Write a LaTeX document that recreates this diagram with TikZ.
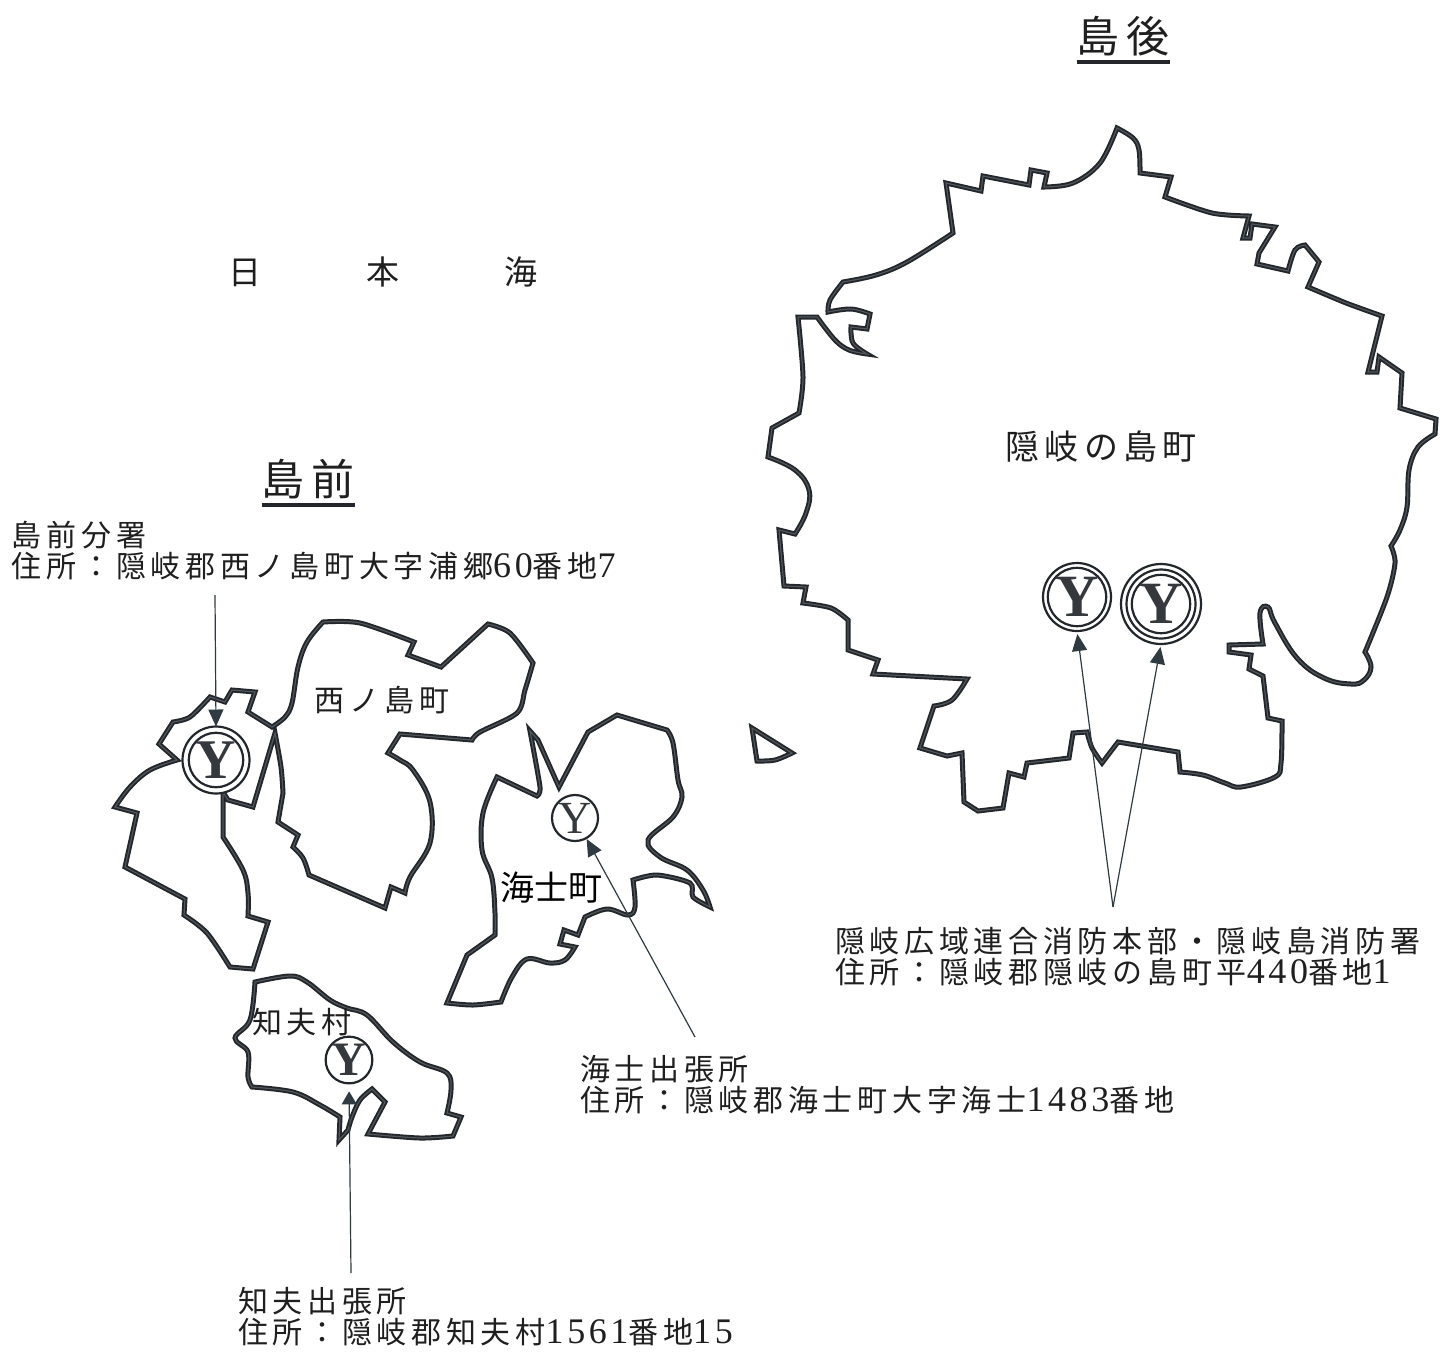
\documentclass[tikz,border=0pt]{standalone}
\usepackage{fontspec}
\usetikzlibrary{arrows.meta}
\newfontfamily\jp{Noto Sans CJK JP}
\newfontfamily\jplab[LetterSpace=15.7]{Noto Sans CJK JP}
\newfontfamily\ser{Liberation Serif}
\newfontfamily\digs[LetterSpace=10,Scale=1.2]{Liberation Serif}
\newcommand{\Dg}[1]{{\digs #1}}
\definecolor{coastgray}{HTML}{50565A}
\definecolor{coastdark}{HTML}{23272B}
\definecolor{arrowc}{HTML}{2F3B40}
\tikzset{
  coast/.style={draw=coastdark,line width=1.9pt,double=coastgray,double distance=1.2pt,line join=miter,miter limit=6},
  lab/.style={inner sep=0pt,outer sep=0pt,anchor=west,align=left,font=\jplab\fontsize{30}{31}\selectfont,text=black!88},
  maplab/.style={inner sep=0pt,outer sep=0pt,font=\jplab\fontsize{30}{31}\selectfont,text=black!88},
  titlelab/.style={inner sep=0pt,outer sep=0pt,minimum height=50pt,font=\jplab\fontsize{43}{44}\selectfont,text=black!88},
  uline/.style={draw=coastdark,line width=3.5pt},
  ring/.style={circle,draw=coastdark,fill=white,line width=2.2pt,inner sep=0pt,outer sep=0pt},
  ysym/.style={ring,text=coastdark!92!white},
  arr/.style={draw=arrowc,line width=1.2pt,-{Triangle[length=17pt,width=15pt,fill=arrowc]}}
}
\begin{document}
\begin{tikzpicture}[x=1pt,y=-1pt]
\useasboundingbox (0,0) rectangle (1450,1353);
\fill[white] (0,0) rectangle (1450,1353);

% Dogo
\draw[coast] plot[smooth,tension=.6] coordinates {(1117,128)(1133,138)(1139,150)(1140,173)} -- (1171,177) -- plot[smooth,tension=.5] coordinates {(1165,197)(1212,213)(1249,216)} -- (1243,238) -- (1250,238) -- (1252,224) -- (1275,227) -- plot[smooth,tension=.5] coordinates {(1259,253)(1257,264)} -- (1288,271) -- plot[smooth,tension=.6] coordinates {(1288,271)(1295,250)(1305,245)} -- (1319,262) -- (1308,287) -- plot[smooth,tension=.4] coordinates {(1308,287)(1346,303)(1382,316)} -- (1368,372) -- (1377,372) -- (1379,357) -- (1402,373) -- (1400,408) -- (1436,419) -- (1435,434) -- plot[smooth,tension=.6] coordinates {(1435,434)(1418,447)(1409,470)(1407,507)(1400,530)(1391,546)} -- plot[smooth,tension=.5] coordinates {(1391,546)(1395,563)(1387,597)(1365,652)} -- plot[smooth,tension=.7] coordinates {(1365,652)(1371,667)(1364,680)(1351,684)(1324,678)(1297,658)(1275,623)(1268,607)(1260,613)(1263,644)} -- (1229,645) -- (1229,652) -- (1251,655) -- (1249,669) -- (1263,676) -- (1268,718) -- (1282,721) -- plot[smooth,tension=.6] coordinates {(1282,721)(1281,763)(1275,777)(1241,787)(1225,783)(1203,775)(1180,772)} -- (1178,752) -- (1118,742) -- (1102,763) -- plot[smooth,tension=.5] coordinates {(1102,763)(1092,748)(1087,732)} -- (1073,733) -- (1069,758) -- (1027,763) -- (1024,777) -- (1009,773) -- (1003,808) -- (978,811) -- (964,802) -- (962,753) -- (947,756) -- (920,748) -- (934,706) -- plot[smooth,tension=.6] coordinates {(934,706)(952,700)(967,679)} -- (873,674) -- (878,660) -- (848,650) -- (848,620) -- plot[smooth,tension=.5] coordinates {(848,620)(831,608)(803,603)} -- (806,587) -- (784,586) -- (779,530) -- (795,534) -- plot[smooth,tension=.7] coordinates {(795,534)(806,513)(809,490)(795,470)(768,457)} -- (772,428) -- (799,413) -- plot[smooth,tension=.5] coordinates {(799,413)(803,377)(798,317)} -- (817,317) -- plot[smooth,tension=.6] coordinates {(817,317)(835,340)(849,350)(867,354)} -- plot[smooth,tension=.6] coordinates {(867,354)(853,343)(851,327)} -- (867,329) -- (870,314) -- plot[smooth,tension=.6] coordinates {(870,314)(851,309)(828,312)} -- plot[smooth,tension=.6] coordinates {(828,312)(830,300)(843,282)} -- plot[smooth,tension=.6] coordinates {(843,282)(876,275)(907,262)(953,233)} -- (946,183) -- (981,191) -- (983,176) -- (1029,185) -- (1031,170) -- (1047,173) -- (1044,187) -- plot[smooth,tension=.6] coordinates {(1044,187)(1073,183)(1100,163)(1117,128)} -- cycle;

% islet
\draw[coast] (752,728) -- (792,753) -- plot[smooth,tension=.6] coordinates {(792,753)(775,760)(757,761)} -- cycle;

% Nishinoshima
\draw[coast] (115,807) -- (137,813) -- (125,867) -- (185,899) -- (184,915) -- plot[smooth,tension=.5] coordinates {(184,915)(207,933)(230,967)} -- (253,969) -- (268,922) -- (248,916) -- plot[smooth,tension=.6] coordinates {(248,916)(248,893)(243,870)(223,837)} -- (223,792) -- plot[smooth,tension=.5] coordinates {(223,792)(228,800)} -- (253,807) -- (275,733) -- plot[smooth,tension=.5] coordinates {(275,733)(281,767)(283,793)} -- (278,822) -- (298,835) -- (293,847) -- plot[smooth,tension=.6] coordinates {(293,847)(303,858)(309,875)} -- (385,908) -- (391,887) -- (405,893) -- plot[smooth,tension=.6] coordinates {(405,893)(410,877)(430,843)(430,802)(413,770)(400,760)(388,753)} -- (400,734) -- (472,740) -- plot[smooth,tension=.5] coordinates {(472,740)(480,732)(517,713)(525,690)(533,663)} -- plot[smooth,tension=.5] coordinates {(533,663)(510,633)(488,624)} -- (441,667) -- (408,655) -- (414,642) -- plot[smooth,tension=.5] coordinates {(414,642)(360,623)(323,622)} -- plot[smooth,tension=.6] coordinates {(323,622)(307,642)(298,667)(292,703)(285,717)(272,727)} -- (248,712) -- (255,692) -- (232,690) -- (225,702) -- (210,697) -- plot[smooth,tension=.5] coordinates {(210,697)(190,717)(173,722)} -- (159,744) -- (177,760) -- plot[smooth,tension=.6] coordinates {(177,760)(150,770)(130,787)(115,807)} -- cycle;

% Ama
\draw[coast] (447,1003) -- (467,955) -- (495,935) -- plot[smooth,tension=.6] coordinates {(495,935)(495,913)(492,878)(482,850)(483,813)(497,777)} -- (537,796) -- plot[smooth,tension=.4] coordinates {(537,796)(540,787)(530,731)} -- (538,740) -- (559,787) -- (588,732) -- (617,715) -- (667,730) -- plot[smooth,tension=.6] coordinates {(667,730)(673,743)(678,780)(682,797)(673,817)(648,840)(660,857)(687,870)(703,890)(710,907)} -- plot[smooth,tension=.5] coordinates {(710,907)(693,897)(690,883)(657,875)(633,880)} -- plot[smooth,tension=.6] coordinates {(633,880)(635,907)(628,915)(607,909)(585,917)} -- (578,935) -- (564,930) -- (560,944) -- (575,947) -- plot[smooth,tension=.6] coordinates {(575,947)(565,960)(550,963)(527,959)(512,977)(501,1002)} -- plot[smooth,tension=.5] coordinates {(501,1002)(473,1005)(447,1003)} -- cycle;

% Chibu
\draw[coast] plot[smooth,tension=.6] coordinates {(255,982)(290,976)(307,982)(330,1000)(347,1008)(367,1015)(393,1042)(420,1062)(447,1073)(451,1090)(447,1113)} -- (461,1117) -- (453,1136) -- plot[smooth,tension=.5] coordinates {(453,1136)(420,1138)(368,1134)} -- (385,1102) -- (372,1089) -- plot[smooth,tension=.6] coordinates {(372,1089)(360,1100)(352,1117)(348,1130)} -- (339,1140) -- (340,1117) -- plot[smooth,tension=.6] coordinates {(340,1117)(320,1105)(293,1092)(252,1087)} -- plot[smooth,tension=.6] coordinates {(252,1087)(248,1077)(248,1052)(235,1038)(250,1020)(255,982)} -- cycle;

% Symbols
\node[ring,minimum size=68pt] (s1a) at (1077,597) {};
\node[ysym,minimum size=54pt,font=\ser\bfseries\fontsize{60}{60}\selectfont] (s1) at (s1a) {Y};
\node[ring,minimum size=80pt] (s2a) at (1161,604) {};
\node[ring,minimum size=69pt] (s2b) at (s2a) {};
\node[ysym,minimum size=54pt,font=\ser\bfseries\fontsize{60}{60}\selectfont] (s2) at (s2a) {Y};
\node[ring,minimum size=67pt] (s3a) at (216,760) {};
\node[ysym,minimum size=52pt,font=\ser\bfseries\fontsize{56}{56}\selectfont] (s3) at (s3a) {Y};
\node[ysym,minimum size=46pt,font=\ser\fontsize{46}{46}\selectfont] (s4) at (575,818) {Y};
\node[ysym,minimum size=46pt,font=\ser\bfseries\fontsize{48}{48}\selectfont] (s5) at (349,1060) {Y};

% Text
\node[titlelab,minimum width=93pt,text depth=6pt] (t1) at (1123,37) {島後};
\node[titlelab,minimum width=93pt,text depth=6pt] (t2) at (308,480) {島前};
\draw[uline] (t1.south west) -- (t1.south east);
\draw[uline] (t2.south west) -- (t2.south east);
\node[inner sep=0pt,font=\jp\fontsize{33}{34}\selectfont,text=black!88] (sea) at (383,272) {日\hspace{105pt}本\hspace{105pt}海};
\node[maplab,font=\jplab\fontsize{34}{36}\selectfont] (m1) at (1101,447) {隠岐の島町};
\node[maplab] (m2) at (382,700) {西ノ島町};
\node[maplab] (m3) at (302,1022) {知夫村};
\node[inner sep=0pt,font=\jp\fontsize{34}{36}\selectfont,text=black] (m4) at (551,888) {海士町};
\node[lab] (l1) at (12,551) {島前分署\\住所：隠岐郡西ノ島町大字浦郷\Dg{60}番地\Dg{7}};
\node[lab] (l2) at (835,957) {隠岐広域連合消防本部・隠岐島消防署\\住所：隠岐郡隠岐の島町平\Dg{440}番地\Dg{1}};
\node[lab] (l3) at (580,1085) {海士出張所\\住所：隠岐郡海士町大字海士\Dg{1483}番地};
\node[lab] (l4) at (238,1317) {知夫出張所\\住所：隠岐郡知夫村\Dg{1561}番地\Dg{15}};

% Leaders
\coordinate (e3) at (215,595);
\coordinate (e4) at (695,1037);
\coordinate (e5) at (351,1273);
\coordinate (e1) at (1113,907);
\draw[arr] (e3) -- (s3a.north);
\draw[arr,shorten >=1pt] (e4) -- (s4.-61);
\draw[arr,shorten >=8pt,-{Triangle[length=13pt,width=15pt,fill=arrowc]}] (e5) -- (s5.south);
\draw[arr,shorten >=3pt] (e1) -- (s1a.south);
\draw[arr,shorten >=3pt] (e1) -- (s2a.south);
\end{tikzpicture}
\end{document}
